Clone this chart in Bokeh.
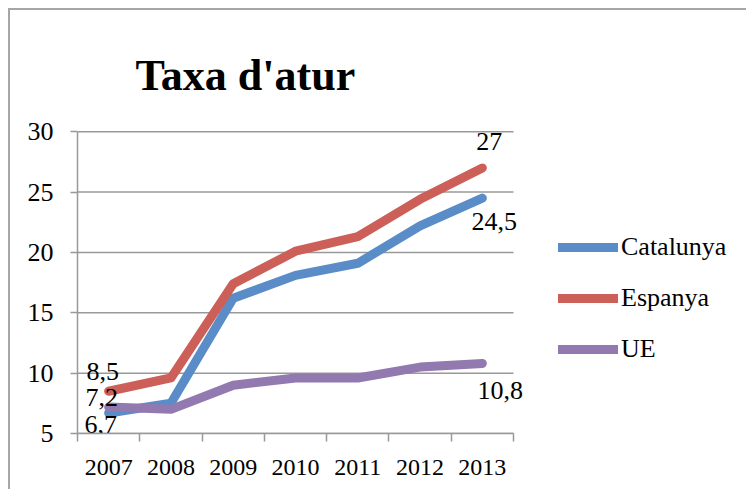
from bokeh.plotting import figure
from bokeh.models import FixedTicker, Legend, LegendItem, ColumnDataSource, Range1d
from bokeh.core.properties import value
from bokeh.embed import file_html
from bokeh.resources import INLINE

# ---- data ----
years = ["2007", "2008", "2009", "2010", "2011", "2012", "2013"]
catalunya = [6.7, 7.5, 16.2, 18.1, 19.1, 22.2, 24.5]
espanya = [8.5, 9.6, 17.4, 20.1, 21.3, 24.4, 27.0]
ue = [7.2, 7.0, 9.0, 9.6, 9.6, 10.5, 10.8]
series_names = ["Catalunya", "Espanya", "UE"]
y_ticks = [5, 10, 15, 20, 25, 30]

# ---- styles ----
colors = ["#5A8DC8", "#CC5F58", "#9279B0"]
grid_color = "#999999"
serif = "Liberation Serif"

n = len(years)
xs = [i + 0.5 for i in range(n)]
boundaries = list(range(n + 1))

# the frame extends to the right so the legend can sit inside it
p = figure(width=738, height=481, output_backend="svg", toolbar_location=None,
           x_range=Range1d(0, 10.5), y_range=Range1d(y_ticks[0], y_ticks[-1] + 0.1),
           min_border_left=67, min_border_right=17, min_border_top=120, min_border_bottom=58)
p.margin = (8, 0, 0, 8)
p.styles = {"border-top": "2px solid #a6a6a6", "border-left": "2px solid #a6a6a6"}
p.outline_line_color = None
p.background_fill_color = "white"
p.border_fill_color = "white"

# title
p.title.text = "Taxa d'atur"
p.title.text_font = serif
p.title.text_font_style = "bold"
p.title.text_font_size = "44px"
p.title.text_color = "black"
p.title.align = "left"
p.title.offset = 58
p.title.standoff = 61

# x axis: labels at category centres, ticks at boundaries
p.xaxis.ticker = FixedTicker(ticks=xs, minor_ticks=boundaries)
p.xaxis.bounds = (0, n)
p.xaxis.major_label_overrides = {x: y for x, y in zip(xs, years)}
p.xaxis.major_tick_out = 0
p.xaxis.major_tick_in = 0
p.xaxis.minor_tick_out = 8
p.xaxis.minor_tick_in = 0
p.xaxis.minor_tick_line_color = grid_color
p.xaxis.minor_tick_line_width = 1.5
p.xaxis.major_label_standoff = 18
p.xaxis.major_label_text_font = serif
p.xaxis.major_label_text_font_size = "24px"
p.xaxis.major_label_text_color = "black"

# y axis
p.yaxis.ticker = FixedTicker(ticks=y_ticks)
p.yaxis.bounds = (y_ticks[0], y_ticks[-1])
p.yaxis.major_tick_out = 7
p.yaxis.major_tick_in = 0
p.yaxis.minor_tick_line_color = None
p.yaxis.major_label_standoff = 17
p.yaxis.major_label_text_font = serif
p.yaxis.major_label_text_font_size = "26px"
p.yaxis.major_label_text_color = "black"

for ax in (p.xaxis, p.yaxis):
    ax.axis_line_color = grid_color
    ax.axis_line_width = 1.5
    ax.major_tick_line_color = grid_color
    ax.major_tick_line_width = 1.5

p.xgrid.visible = False
p.ygrid.visible = False
# horizontal gridlines spanning only the category area
p.segment(x0=[0] * len(y_ticks), x1=[n] * len(y_ticks), y0=y_ticks, y1=y_ticks,
          line_color=grid_color, line_width=1.5)

renderers = []
for vals, c in zip([catalunya, espanya, ue], colors):
    r = p.line(xs, vals, line_width=9, line_color=c, line_cap="round", line_join="round")
    renderers.append(r)

legend = Legend(items=[LegendItem(label=nm, renderers=[r]) for nm, r in zip(series_names, renderers)],
                location=(481, 69), orientation="vertical",
                label_text_font=serif, label_text_font_size="26px", label_text_color="black",
                glyph_width=60, glyph_height=26, label_height=26, spacing=21,
                padding=0, margin=0, label_standoff=3,
                border_line_color=None, background_fill_alpha=0)
p.add_layout(legend)

# data labels at first and last points
all_series = [catalunya, espanya, ue]
label_x, label_y, label_text = [], [], []
for vals in all_series:
    for idx in (0, n - 1):
        label_x.append(xs[idx])
        label_y.append(vals[idx])
        label_text.append(("%g" % vals[idx]).replace(".", ","))
# pixel offsets (style): cat first, cat last, esp first, esp last, ue first, ue last
dx = [-8, 12, -6, 7, -7, 18]
dy = [12, 23, -20, -26, -9, 27]
src = ColumnDataSource(dict(x=label_x, y=label_y, t=label_text, dx=dx, dy=dy))
p.text(x="x", y="y", text="t", x_offset="dx", y_offset="dy", source=src,
       text_font=value(serif), text_font_size="26px", text_color="black",
       text_align="center", text_baseline="middle")

open("out.html", "w").write(file_html(p, INLINE))
